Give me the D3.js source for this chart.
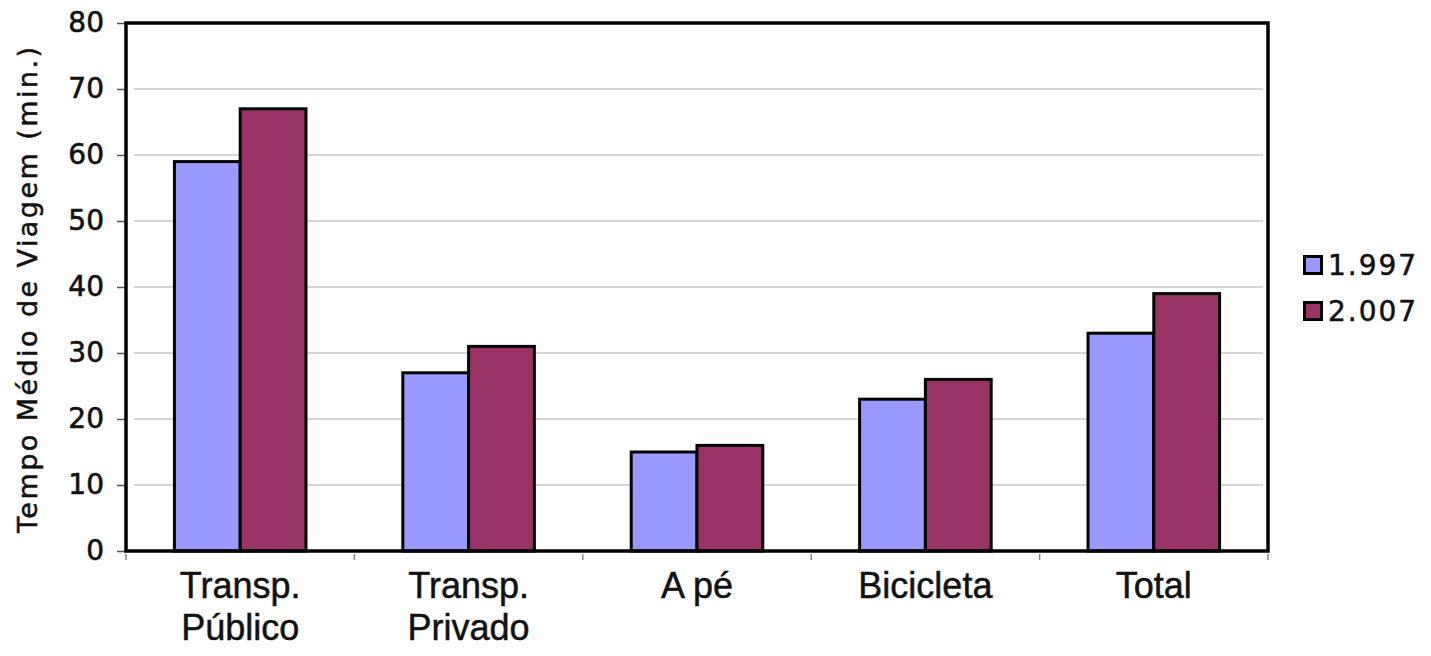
<!DOCTYPE html>
<html>
<head>
<meta charset="utf-8">
<script src="https://cdn.jsdelivr.net/npm/d3@7"></script>
<style>
  html, body { margin: 0; padding: 0; background: #fff; }
  svg { display: block; }
  text { paint-order: stroke; }
</style>
</head>
<body>
<svg id="chart" width="1431" height="656"></svg>
<script>
// Tempo médio de viagem por modo de transporte
const categories = [["Transp.", "Público"], ["Transp.", "Privado"], ["A pé"], ["Bicicleta"], ["Total"]];
const seriesNames = ["1.997", "2.007"];
const values1997 = [59, 27, 15, 23, 33];
const values2007 = [67, 31, 16, 26, 39];
const yTicks = [0, 10, 20, 30, 40, 50, 60, 70, 80];
const colors = ["#9999FF", "#993366"];

const svg = d3.select("#chart");
const margin = { left: 126, top: 23, right: 1431 - 1268, bottom: 656 - 551 };
const W = 1431 - margin.left - margin.right;
const H = 656 - margin.top - margin.bottom;
const g = svg.append("g").attr("transform", `translate(${margin.left},${margin.top})`);

const catKeys = categories.map(c => c.join(" "));
const x0 = d3.scaleBand().domain(catKeys).range([0, W]).padding(0);
const x1 = d3.scaleBand().domain(seriesNames)
  .range([x0.bandwidth() * 0.212, x0.bandwidth() * 0.788]).padding(0);
const y = d3.scaleLinear().domain([0, 80]).range([H, 0]);

// gridlines
g.append("g").selectAll("line").data(yTicks.filter(t => t > 0 && t < 80)).join("line")
  .attr("x1", 8).attr("x2", W - 5)
  .attr("y1", d => y(d)).attr("y2", d => y(d))
  .attr("stroke", "#d4d4d4").attr("stroke-width", 2);

// bars
const rows = catKeys.map((k, i) => ({ key: k, vals: [values1997[i], values2007[i]] }));
const grp = g.append("g").selectAll("g").data(rows).join("g")
  .attr("transform", d => `translate(${x0(d.key)},0)`);
grp.selectAll("rect").data(d => d.vals.map((v, j) => ({ s: seriesNames[j], v, j }))).join("rect")
  .attr("x", d => x1(d.s))
  .attr("y", d => y(d.v))
  .attr("width", x1.bandwidth())
  .attr("height", d => y(0) - y(d.v))
  .attr("fill", d => colors[d.j])
  .attr("stroke", "#000")
  .attr("stroke-width", 3);

// y axis
const yAxis = g.append("g").call(d3.axisLeft(y).tickValues(yTicks).tickSize(9).tickPadding(13));
yAxis.select(".domain").remove();
yAxis.selectAll(".tick line").attr("stroke", "#555").attr("stroke-width", 1.5);
yAxis.selectAll(".tick text")
  .attr("font-family", "DejaVu Sans, Verdana, sans-serif")
  .attr("font-size", 28).attr("fill", "#111")
  .attr("stroke", "#111").attr("stroke-width", 0.6);

// x axis
const xAxis = g.append("g").attr("transform", `translate(0,${H})`)
  .call(d3.axisBottom(x0).tickSize(0).tickFormat(""));
xAxis.select(".domain").remove();
const boundaries = d3.range(categories.length + 1).map(i => i * x0.step());
g.append("g").selectAll("line").data(boundaries).join("line")
  .attr("x1", d => d).attr("x2", d => d)
  .attr("y1", H + 3).attr("y2", H + 9)
  .attr("stroke", "#888").attr("stroke-width", 1.5);

// category labels
const labels = g.append("g").selectAll("text").data(categories).join("text")
  .attr("x", (d, i) => x0(catKeys[i]) + x0.bandwidth() / 2)
  .attr("y", H + 47)
  .attr("text-anchor", "middle")
  .attr("font-family", "Liberation Sans, Arial, sans-serif")
  .attr("font-size", 36).attr("fill", "#111")
  .attr("stroke", "#111").attr("stroke-width", 0.5);
labels.selectAll("tspan").data(d => d).join("tspan")
  .attr("x", function () { return d3.select(this.parentNode).attr("x"); })
  .attr("dy", (d, i) => i === 0 ? 0 : 42)
  .text(d => d);

// plot frame
g.append("rect").attr("x", 0).attr("y", 0).attr("width", W).attr("height", H)
  .attr("fill", "none").attr("stroke", "#000").attr("stroke-width", 3.5);

// y title
svg.append("text")
  .attr("transform", "translate(37,290) rotate(-90)")
  .attr("text-anchor", "middle")
  .attr("font-family", "DejaVu Sans, Verdana, sans-serif")
  .attr("font-size", 27)
  .attr("textLength", 486)
  .attr("lengthAdjust", "spacing")
  .attr("fill", "#111")
  .attr("stroke", "#111").attr("stroke-width", 0.5)
  .text("Tempo Médio de Viagem (min.)");

// legend
const legend = svg.append("g").attr("transform", "translate(1303,255)");
const li = legend.selectAll("g").data(seriesNames).join("g")
  .attr("transform", (d, i) => `translate(0,${i * 46})`);
li.append("rect").attr("x", 1.5).attr("y", 1.5).attr("width", 17).attr("height", 17)
  .attr("fill", (d, i) => colors[i]).attr("stroke", "#000").attr("stroke-width", 3);
li.append("text").attr("x", 25).attr("y", 20)
  .attr("font-family", "DejaVu Sans, Verdana, sans-serif")
  .attr("font-size", 28).attr("letter-spacing", 2).attr("fill", "#111")
  .attr("stroke", "#111").attr("stroke-width", 0.5)
  .text(d => d);
</script>
</body>
</html>
